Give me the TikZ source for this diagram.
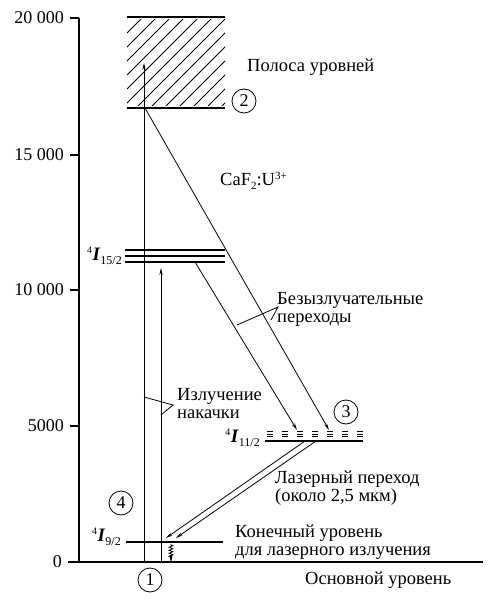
\documentclass[tikz,border=0pt]{standalone}
\usepackage{fontspec}
\setmainfont{Liberation Serif}
\usetikzlibrary{arrows.meta,decorations.pathmorphing}
\tikzset{
  lbl/.style={anchor=west,inner sep=0pt,align=left,font=\fontsize{18.5}{18}\selectfont},
  num/.style={anchor=east,inner sep=0pt,font=\fontsize{18}{18}\selectfont},
  lev/.style={line width=1.8pt},
  axis/.style={line width=1.1pt},
  tr/.style={line width=0.8pt,-{Stealth[length=7pt,width=3.2pt]}},
  thin/.style={line width=0.8pt},
  circ/.style={circle,draw,line width=0.8pt,minimum size=24pt,inner sep=0pt,font=\fontsize{18}{18}\selectfont},
  lvlname/.style={anchor=east,inner sep=0pt,font=\fontsize{19}{19}\selectfont}
}
\newcommand{\lvl}[1]{\raisebox{7pt}{\fontsize{10}{10}\selectfont 4}\kern0.5pt\textbf{\textit{I}}\raisebox{-4.5pt}{\fontsize{12}{12}\selectfont #1}}
\begin{document}
\begin{tikzpicture}[x=1pt,y=-1pt]
\useasboundingbox (0,0) rectangle (500,601);
% axis
\coordinate (atop) at (79,18);
\coordinate (abot) at (79,562);
\draw[axis] (atop) -- (abot);
\foreach \y/\t in {18/20 000,155/15 000,290/10 000,426/5000}{
  \draw[axis] (70,\y) -- (79,\y);
  \node[num] at (64,\y) {\t};
}
\coordinate (g0) at (68,562);
\coordinate (g1) at (483,562);
\draw[axis] (g0) -- (g1);
\node[num] (zero) at (62,562) {0};
% band
\begin{scope}
\clip (127,20) rectangle (225,106);
\foreach \x in {40,54,...,230}{
  \draw[thin] (\x,106) -- (\x+87,19);
}
\end{scope}
\draw[lev] (127,17) -- (225,17);
\coordinate (bandL) at (127,108);
\coordinate (bandR) at (225,108);
\draw[lev] (bandL) -- (bandR);
% 4I15/2
\foreach \y in {250,256,262}{\draw[lev] (125,\y) -- (225,\y);}
\node[lvlname] (l15) at (122,256) {\lvl{15/2}};
% 4I11/2
\coordinate (e1L) at (265,441);
\coordinate (e1R) at (363,441);
\draw[lev] (e1L) -- (e1R);
\foreach \y in {431.5,434,436.5}{
  \draw[line width=1pt,dash pattern=on 6pt off 9pt] (267,\y) -- (363,\y);
}
\node[lvlname] (l11) at (260,438) {\lvl{11/2}};
% 4I9/2
\coordinate (e0L) at (126,542);
\coordinate (e0R) at (223,542);
\draw[lev] (e0L) -- (e0R);
\node[lvlname] (l9) at (121,537) {\lvl{9/2}};
% pump arrows
\coordinate (p1s) at (144,562);
\coordinate (p1e) at (144,63);
\coordinate (p2s) at (161,562);
\coordinate (p2e) at (161,268);
\draw[tr] (p1s) -- (p1e);
\draw[tr] (p2s) -- (p2e);
% nonradiative
\coordinate (n1s) at (145,108);
\coordinate (n1e) at (329,430);
\coordinate (n2s) at (195,262);
\coordinate (n2e) at (297,430);
\draw[tr] (n1s) -- (n1e);
\draw[tr] (n2s) -- (n2e);
% laser transition
\coordinate (l1s) at (305,441);
\coordinate (l1e) at (166,538);
\coordinate (l2s) at (316,441);
\coordinate (l2e) at (176,538);
\draw[tr] (l1s) -- (l1e);
\draw[tr] (l2s) -- (l2e);
% relaxation wavy
\coordinate (w1) at (171,544);
\coordinate (w2) at (171,562);
\draw[line width=0.8pt,decorate,decoration={zigzag,amplitude=1.8pt,segment length=3pt,pre length=1pt,post length=5pt}] (w1) -- (w2);
\draw[tr] (171,556) -- (w2);
% pointers
\coordinate (pa) at (173,405);
\coordinate (pb1) at (144,397);
\coordinate (pb2) at (161,415);
\draw[thin] (pb1) -- (pa) -- (pb2);
\coordinate (qa) at (278,307);
\coordinate (qb1) at (237,325);
\coordinate (qb2) at (271,320);
\draw[thin] (qb1) -- (qa) -- (qb2);
% circles
\node[circ] (c1) at (150,580) {1};
\node[circ] (c2) at (244,101) {2};
\node[circ] (c3) at (346,412) {3};
\node[circ] (c4) at (121,503) {4};
% labels
\node[lbl] (band) at (247,67) {Полоса уровней};
\node[lbl] (caf) at (220,181) {CaF\raisebox{-3.5pt}{\fontsize{11}{11}\selectfont 2}:U\raisebox{6pt}{\fontsize{11}{11}\selectfont 3+}};
\node[lbl] (nonrad) at (277,309) {Безызлучательные\\переходы};
\node[lbl] (pump) at (177,404) {Излучение\\накачки};
\node[lbl] (laser) at (275,488) {Лазерный переход\\(около 2,5 мкм)};
\node[lbl] (final) at (235,542) {Конечный уровень\\для лазерного излучения};
\node[lbl] (ground) at (305,580) {Основной уровень};
\end{tikzpicture}
\end{document}
